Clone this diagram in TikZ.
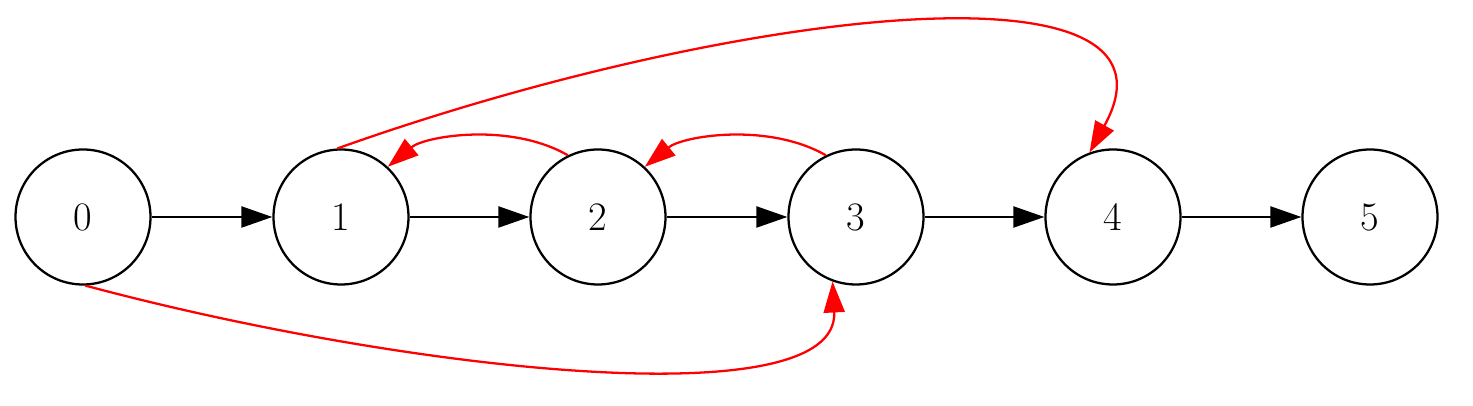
\documentclass[tikz,border=0pt]{standalone}
\usetikzlibrary{arrows.meta}
\begin{document}
\begin{tikzpicture}[
        >={Triangle[length=0.62cm, width=0.42cm]},
        line width=1.3pt,
        back/.style={red, ->},
    ]
    \useasboundingbox (0,0) rectangle (29.46,8.12);
    \begin{scope}[
            every node/.style={circle, draw, minimum size=2.7cm, inner sep=0pt, font=\fontsize{23}{27}\selectfont},
        ]

        \node (n0) at (1.66,3.78) {0};
        \node (n1) at (6.82,3.78) {1};
        \node (n2) at (11.96,3.78) {2};
        \node (n3) at (17.12,3.78) {3};
        \node (n4) at (22.26,3.78) {4};
        \node (n5) at (27.40,3.78) {5};

        \draw[->] (n0) -- (n1);
        \draw[->] (n1) -- (n2);
        \draw[->] (n2) -- (n3);
        \draw[->] (n3) -- (n4);
        \draw[->] (n4) -- (n5);

        % back and skip edges
        \draw[back] (n1.93) .. controls (14.6,7.95) and (24.0,9.05) .. (n4.110);
        \draw[back] (n2.116) .. controls (10.2,5.68) and (8.5,5.40) .. (n1.47);
        \draw[back] (n3.116) .. controls (15.35,5.68) and (13.65,5.40) .. (n2.47);
        \draw[back] (n0.272) .. controls (8.0,0.72) and (16.8,-0.28) .. (n3.250);
    \end{scope}
\end{tikzpicture}
\end{document}
